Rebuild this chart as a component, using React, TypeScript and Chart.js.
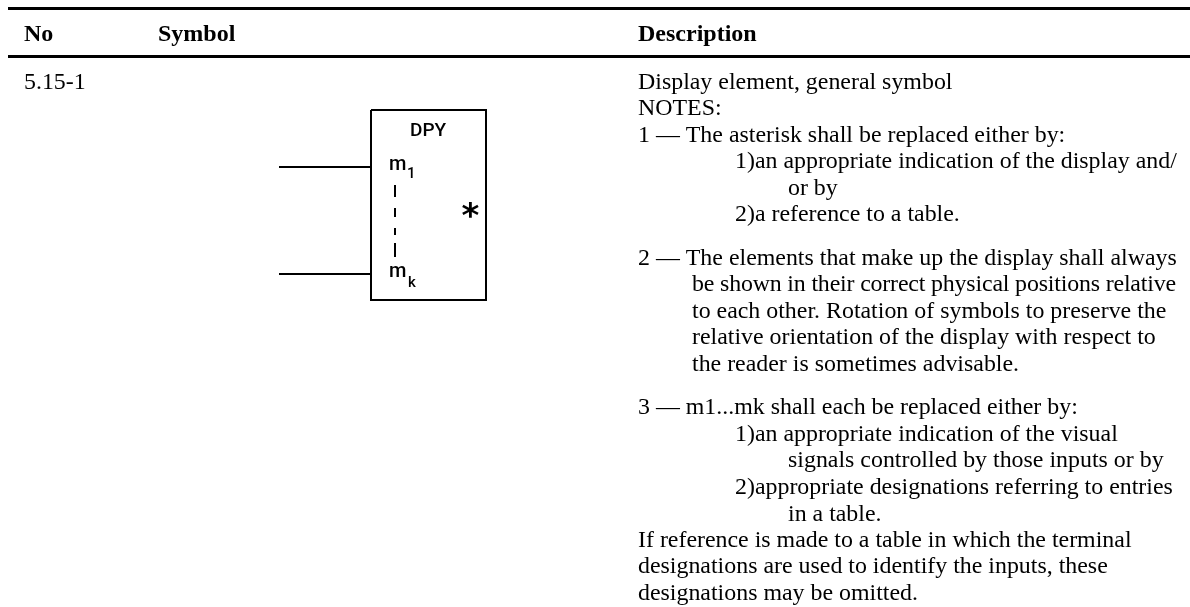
import React, { useEffect, useRef } from "react";
import { Chart, registerables } from "chart.js";

Chart.register(...registerables);

const topRule = [{ x: 8, y: 8.5 }, { x: 1190, y: 8.5 }];
const headRule = [{ x: 8, y: 56.5 }, { x: 1190, y: 56.5 }];
const box = [{ x: 371, y: 110 }, { x: 486, y: 110 }, { x: 486, y: 300 }, { x: 371, y: 300 }, { x: 371, y: 110 }];
const leadTop = [{ x: 279, y: 167 }, { x: 371, y: 167 }];
const leadBottom = [{ x: 279, y: 274 }, { x: 371, y: 274 }];
const dashes = [
  [{ x: 395, y: 185 }, { x: 395, y: 197 }],
  [{ x: 395, y: 208 }, { x: 395, y: 217 }],
  [{ x: 395, y: 228 }, { x: 395, y: 235 }],
  [{ x: 395, y: 243 }, { x: 395, y: 257 }],
];

type Label = [string, number, number];
const headers: Label[] = [["No", 24, 41], ["Symbol", 158, 41], ["Description", 638, 41]];
const tightLine = "be shown in their correct physical positions relative";
const bodyLines: Label[] = [
  ["5.15-1", 24, 89],
  ["Display element, general symbol", 638, 89],
  ["NOTES:", 638, 115],
  ["1 — The asterisk shall be replaced either by:", 638, 142],
  ["1)an appropriate indication of the display and/", 735, 168],
  ["or by", 788, 195],
  ["2)a reference to a table.", 735, 221],
  ["2 — The elements that make up the display shall always", 638, 265],
  [tightLine, 692, 291],
  ["to each other. Rotation of symbols to preserve the", 692, 318],
  ["relative orientation of the display with respect to", 692, 344],
  ["the reader is sometimes advisable.", 692, 371],
  ["3 — m1...mk shall each be replaced either by:", 638, 414],
  ["1)an appropriate indication of the visual", 735, 441],
  ["signals controlled by those inputs or by", 788, 467],
  ["2)appropriate designations referring to entries", 735, 494],
  ["in a table.", 788, 521],
  ["If reference is made to a table in which the terminal", 638, 547],
  ["designations are used to identify the inputs, these", 638, 573],
  ["designations may be omitted.", 638, 600],
];
const symbolLabels: Label[] = [["DPY", 410, 136]];
const symbolLetters: Label[] = [["m", 389, 170], ["m", 389, 277]];
const symbolSubs: Label[] = [["1", 407, 178], ["k", 408, 287]];
const starLabel: Label[] = [["*", 461.5, 227]];

export default function App() {
  const ref = useRef<HTMLCanvasElement>(null);
  useEffect(() => {
    if (!ref.current) return;
    const line = (data: { x: number; y: number }[], borderWidth: number) => ({
      data, borderWidth, borderColor: "#000", pointRadius: 0, showLine: true, tension: 0,
    });
    const textPlugin = {
      id: "text",
      afterDatasetsDraw(c: any) {
        const g = c.ctx;
        const { x, y } = c.scales;
        const put = (rows: Label[], font: string) => {
          g.font = font;
          rows.forEach(([t, a, b]) => {
            g.letterSpacing = t === tightLine ? "-0.17px" : "0px";
            g.fillText(t, x.getPixelForValue(a), y.getPixelForValue(b));
          });
        };
        g.save();
        g.fillStyle = "#000";
        g.textBaseline = "alphabetic";
        put(headers, "bold 24px 'Liberation Serif'");
        put(bodyLines, "23.9px 'Liberation Serif'");
        put(symbolLabels, "500 19px Roboto");
        put(symbolLetters, "500 20px Roboto");
        put(symbolSubs, "500 15px Roboto");
        put(starLabel, "bold 34px 'DejaVu Sans'");
        g.restore();
      },
    };
    const chart = new Chart(ref.current, {
      type: "scatter",
      data: {
        datasets: [
          line(topRule, 3), line(headRule, 3), line(box, 2), line(leadTop, 2), line(leadBottom, 2),
          ...dashes.map((d) => line(d, 2)),
        ],
      },
      options: {
        animation: false, responsive: false, layout: { padding: 0 },
        plugins: { legend: { display: false }, tooltip: { enabled: false } },
        scales: {
          x: { type: "linear", min: 0, max: 1190, display: false },
          y: { type: "linear", min: 0, max: 607, reverse: true, display: false },
        },
      },
      plugins: [textPlugin],
    } as any);
    return () => chart.destroy();
  }, []);
  return <canvas ref={ref} width={1190} height={607} style={{ position: "fixed", left: 0, top: 0, display: "block" }} />;
}
